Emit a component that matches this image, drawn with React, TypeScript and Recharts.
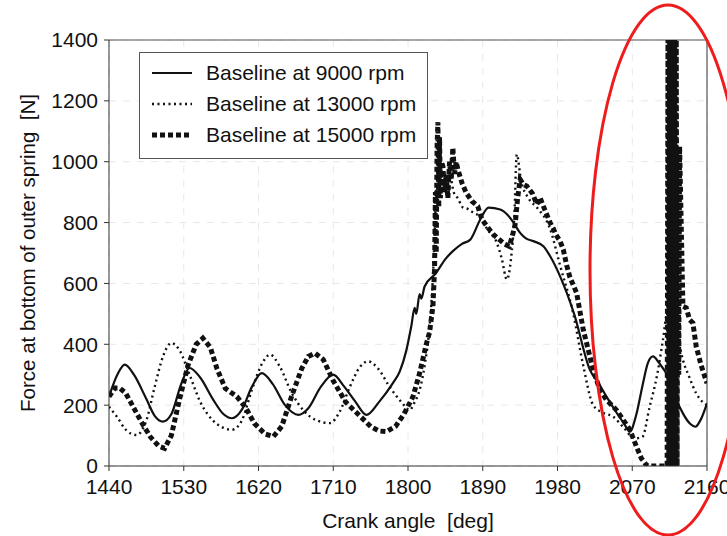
import React from "react";
import {
  CartesianGrid,
  Legend,
  Line,
  LineChart,
  ReferenceLine,
  XAxis,
  YAxis,
} from "recharts";

// crank angle [deg] / force [N]
const angle9000 = [
  1440, 1450, 1459, 1470, 1485, 1495, 1505, 1515, 1527, 1537, 1550, 1565, 1578, 1588, 1600, 1612, 1624, 1637,
  1652, 1668, 1680, 1695, 1710, 1722, 1737, 1750, 1765, 1782, 1790, 1798, 1804, 1808, 1810, 1814, 1816, 1820,
  1834, 1845, 1854, 1865, 1875, 1887, 1897, 1911, 1920, 1927, 1935, 1942, 1951, 1963, 1971, 1983, 2000, 2019,
  2030, 2039, 2050, 2060, 2067, 2075, 2082, 2089, 2095, 2102, 2115, 2123, 2131, 2140, 2146, 2152, 2160,
];
const force9000 = [
  228, 300, 333, 300, 220, 165, 146, 170, 270, 322, 290, 220, 170, 157, 185, 260, 305, 270,
  200, 168, 190, 260, 300, 265, 210, 168, 210, 273, 310, 380, 460, 520, 500, 565, 550, 590,
  635, 680, 706, 730, 744, 810, 849, 843, 825, 800, 766, 748, 739, 722, 690, 624, 500, 316,
  270, 228, 180, 140, 113, 170, 260, 340, 360, 340, 283, 220, 173, 138, 129, 150, 206,
];

const angle13000 = [
  1440, 1450, 1460, 1473, 1485, 1495, 1505, 1515, 1525, 1537, 1550, 1565, 1578, 1588, 1600, 1612, 1625, 1634,
  1645, 1660, 1675, 1690, 1706, 1718, 1730, 1742, 1752, 1764, 1778, 1792, 1802, 1808, 1814, 1820, 1826, 1830,
  1834, 1838, 1842, 1846, 1850, 1855, 1860, 1866, 1872, 1880, 1887, 1895, 1907, 1913, 1919, 1924, 1928, 1931,
  1936, 1945, 1955, 1971, 1983, 1999, 2011, 2023, 2035, 2047, 2060, 2073, 2082, 2091, 2100, 2107, 2112, 2125,
  2131, 2139, 2147, 2153, 2160,
];
const force13000 = [
  195, 160, 120, 102, 150, 260, 360, 404, 380, 300, 210, 150, 125, 119, 150, 250, 340, 366,
  330, 240, 180, 150, 141, 180, 260, 325, 344, 320, 260, 210, 184, 210, 250, 330, 459, 620,
  900, 1000, 940, 900, 960, 900, 880, 850, 845, 830, 821, 780, 733, 680, 613, 680, 820, 1024,
  940, 880, 850, 780, 660, 500, 330, 200, 175, 162, 125, 91, 95, 195, 300, 415, 500, 420,
  349, 290, 239, 215, 200,
];

const angle15000 = [
  1440, 1447, 1453, 1460, 1470, 1480, 1490, 1500, 1507, 1515, 1525, 1535, 1545, 1553, 1562, 1570, 1580, 1594,
  1605, 1615, 1628, 1638, 1648, 1660, 1672, 1680, 1688, 1698, 1710, 1725, 1740, 1755, 1765, 1774, 1785, 1795,
  1806, 1814, 1822, 1826, 1830, 1832, 1833, 1834, 1835, 1836, 1837, 1838, 1839, 1840, 1842, 1844, 1846, 1848,
  1850, 1852, 1854, 1856, 1858, 1860, 1865, 1870, 1877, 1884, 1889, 1895, 1903, 1910, 1916, 1922, 1926, 1929,
  1932, 1935, 1939, 1943, 1950, 1955, 1959, 1965, 1971, 1975, 1978, 1983, 1987, 1991, 1995, 2003, 2011, 2023,
  2031, 2039, 2051, 2059, 2067, 2075, 2081, 2087, 2090, 2112, 2113, 2114, 2115, 2116, 2117, 2118, 2119, 2120,
  2121, 2122, 2123, 2124, 2125, 2126, 2127, 2131, 2135, 2139, 2143, 2147, 2153, 2160,
];
const force15000 = [
  228, 256, 256, 240, 190, 140, 95, 65, 58, 100, 220, 330, 400, 420, 390, 320, 255, 228,
  190, 140, 105, 97, 130, 230, 320, 360, 371, 350, 280, 210, 170, 130, 115, 113, 130, 170,
  228, 305, 400, 440, 525, 650, 900, 700, 1050, 1130, 850, 1080, 880, 1000, 986, 900, 960, 880,
  1000, 940, 1046, 960, 1000, 975, 930, 898, 870, 854, 810, 788, 760, 744, 730, 722, 760, 794,
  880, 942, 925, 920, 895, 860, 882, 840, 800, 780, 760, 740, 711, 660, 620, 569, 448, 316,
  250, 217, 184, 152, 120, 64, 25, 3, 0, 0, 1400, 0, 1400, 0, 1400, 0, 1400, 0,
  1400, 0, 1400, 0, 1050, 300, 1050, 525, 520, 481, 470, 393, 330, 272,
];

const xTicks = [1440, 1530, 1620, 1710, 1800, 1890, 1980, 2070, 2160];
const yTicks = [0, 200, 400, 600, 800, 1000, 1200, 1400];

const seriesNames = ["Baseline at 9000 rpm", "Baseline at 13000 rpm", "Baseline at 15000 rpm"];

const toPoints = (angles: number[], forces: number[]) => angles.map((x, i) => ({ x, y: forces[i] }));

const styles = [
  { strokeWidth: 2.2, dash: undefined as string | undefined },
  { strokeWidth: 2.4, dash: "2 3.5" },
  { strokeWidth: 5, dash: "5 3" },
];

const ink = "#111";
const font = '"Liberation Sans", Arial, sans-serif';

function LegendBox() {
  return (
    <div
      style={{
        width: 289,
        height: 107,
        boxSizing: "border-box",
        border: "1.5px solid #555",
        background: "#fff",
        paddingTop: 4,
        fontFamily: font,
        fontSize: 21,
        color: ink,
        textAlign: "left",
      }}
    >
      {seriesNames.map((name, i) => (
        <div key={name} style={{ display: "flex", alignItems: "center", height: 31 }}>
          <svg width={54} height={10} style={{ marginLeft: 12, flex: "none" }}>
            <line
              x1={0}
              y1={5}
              x2={40}
              y2={5}
              stroke={ink}
              strokeWidth={styles[i].strokeWidth}
              strokeDasharray={styles[i].dash}
            />
          </svg>
          <span style={{ whiteSpace: "nowrap" }}>{name}</span>
        </div>
      ))}
    </div>
  );
}

export default function App() {
  const data = [
    toPoints(angle9000, force9000),
    toPoints(angle13000, force13000),
    toPoints(angle15000, force15000),
  ];
  const tick = { fontSize: 21, fill: ink, fontFamily: font };

  return (
    <div style={{ position: "absolute", left: 0, top: 0, width: 727, height: 536, background: "#fff", fontFamily: font }}>
      <LineChart width={727} height={536} margin={{ top: 40, right: 20, bottom: 0, left: 20 }}>
        <CartesianGrid stroke="#e8e8e8" strokeDasharray="7 7" />
        <XAxis
          dataKey="x"
          type="number"
          domain={[1440, 2160]}
          ticks={xTicks}
          interval={0}
          allowDataOverflow
          height={70}
          tick={tick}
          tickSize={5}
          tickMargin={8}
          stroke="#333"
          label={{ value: "Crank angle\u00a0 [deg]", position: "insideBottom", offset: 8, fontSize: 21, fill: ink }}
        />
        <YAxis
          type="number"
          domain={[0, 1400]}
          ticks={yTicks}
          interval={0}
          allowDataOverflow
          width={89}
          tick={tick}
          tickSize={5}
          tickMargin={6}
          stroke="#333"
          label={{
            value: "Force at bottom of outer spring\u00a0 [N]",
            angle: -90,
            position: "insideLeft",
            offset: 8,
            fontSize: 20.5,
            fill: ink,
            style: { textAnchor: "middle" },
          }}
        />
        <ReferenceLine y={1400} stroke="#555" strokeWidth={1.2} />
        <ReferenceLine x={2160} stroke="#555" strokeWidth={1.2} />
        {data.map((pts, i) => (
          <Line
            key={seriesNames[i]}
            data={pts}
            dataKey="y"
            name={seriesNames[i]}
            type={i === 2 ? "linear" : "monotone"}
            stroke={ink}
            strokeWidth={styles[i].strokeWidth}
            strokeDasharray={styles[i].dash}
            dot={false}
            activeDot={false}
            isAnimationActive={false}
          />
        ))}
        <Legend
          layout="vertical"
          align="center"
          verticalAlign="middle"
          wrapperStyle={{ position: "absolute", left: 139, top: 52, width: 289 }}
          content={() => <LegendBox />}
        />
      </LineChart>
      <svg width={727} height={536} style={{ position: "absolute", left: 0, top: 0, pointerEvents: "none" }}>
        <ellipse cx={668} cy={270} rx={78} ry={265} fill="none" stroke="#ee1c1c" strokeWidth={3} />
      </svg>
    </div>
  );
}
